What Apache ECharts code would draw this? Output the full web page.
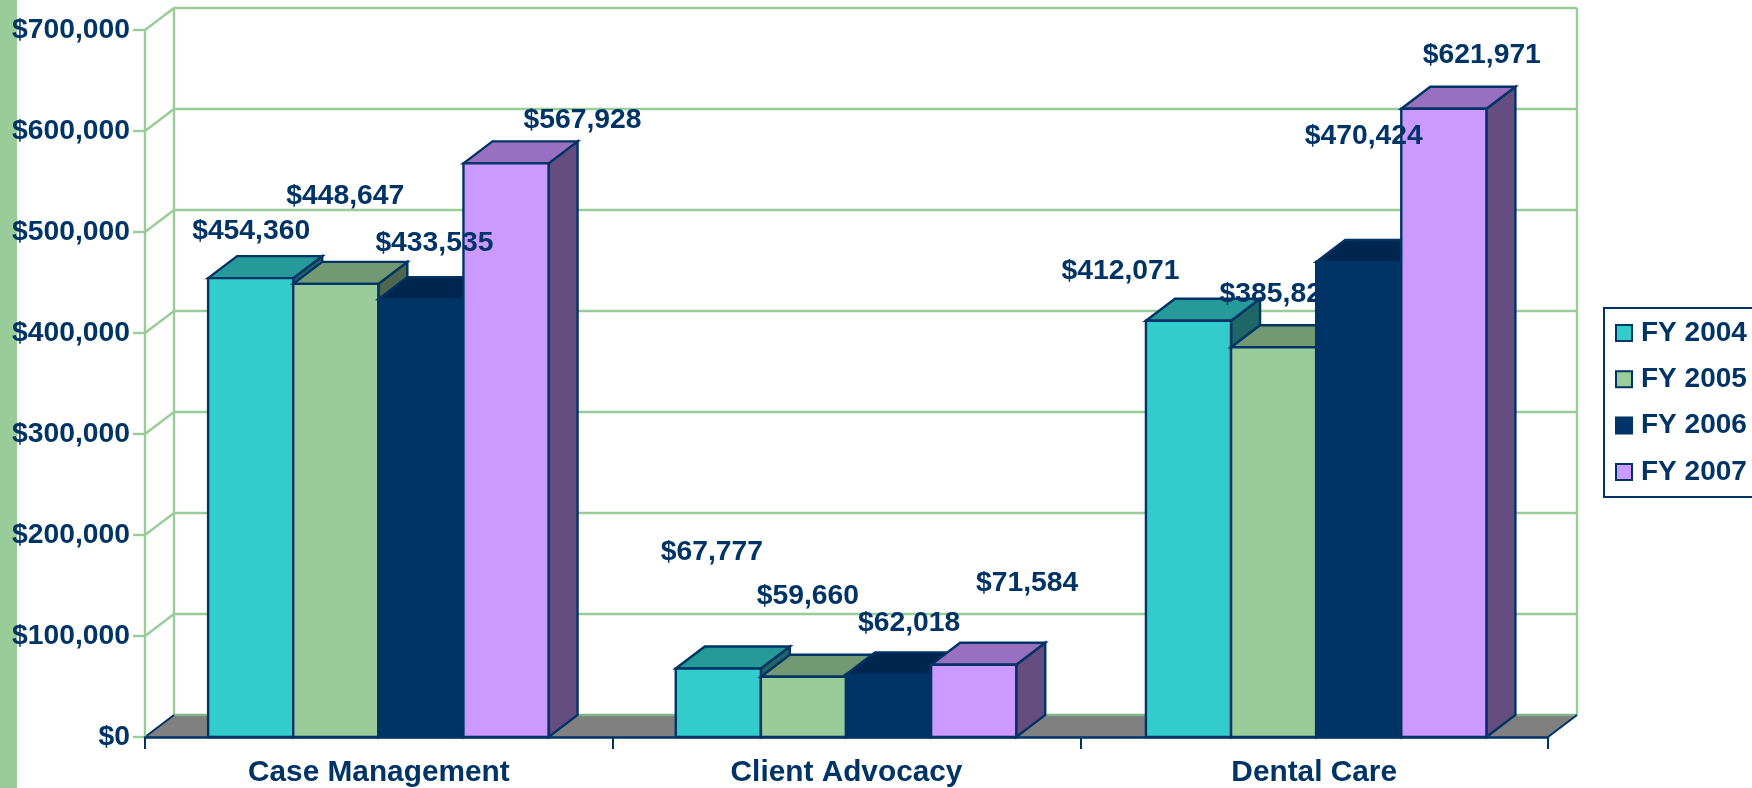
<!DOCTYPE html>
<html>
<head>
<meta charset="utf-8">
<style>html,body{margin:0;padding:0;background:#fff;overflow:hidden}#c{width:1752px;height:788px}</style>
<script src="https://cdn.jsdelivr.net/npm/echarts@6/dist/echarts.min.js"></script>
</head>
<body>
<div id="c"></div>
<script>
const categories = ['Case Management', 'Client Advocacy', 'Dental Care'];
const seriesNames = ['FY 2004', 'FY 2005', 'FY 2006', 'FY 2007'];
const fy2004 = [454360, 67777, 412071];
const fy2005 = [448647, 59660, 385821];
const fy2006 = [433535, 62018, 470424];
const fy2007 = [567928, 71584, 621971];
const yTicks = [0, 100000, 200000, 300000, 400000, 500000, 600000, 700000];

const allValues = [fy2004, fy2005, fy2006, fy2007];
const NAVY = '#003366', GREEN = '#99CC99', FONT = '"Liberation Sans", Arial, sans-serif';
const DEPTH_X = 29, DEPTH_Y = 22, BAR_SHARE = 0.182;
const LINE = 2.4;
const faces = [
  { front: '#33CCCC', top: '#269999', side: '#1F6666' },
  { front: '#99CC99', top: '#739973', side: '#4D664D' },
  { front: '#003366', top: '#00264F', side: '#001F40' },
  { front: '#CC99FF', top: '#9970BF', side: '#664D80' }
];
// Small horizontal adjustment of each category's bar cluster
const clusterNudge = [-0.5, -0.5, 2];
// Data-label placement relative to each bar's front-top centre (series x category)
const labelDX = [[0, -7, -66], [9, 4, 7], [13, 20, 7], [76, 53, 40]];
const labelDY = [[-47, -116, -50], [-88, -81, -53], [-56, -51, -126], [-43, -82, -54]];
const barZ = [2, 3, 4, 5], labelZ = [3.5, 3.5, 6, 6];

const money = v => '$' + Number(v).toLocaleString('en-US');

function renderWall(params, api) {
  const v = api.value(0);
  const maxV = yTicks[yTicks.length - 1];
  const band = api.size([1, 0])[0];
  const c0 = api.coord([0, v]);
  const xL = c0[0] - band / 2, y = c0[1];
  const xR = xL + band * categories.length;
  const kids = [];
  if (v === 0) {
    const topY = api.coord([0, maxV])[1];
    kids.push({ type: 'polygon', shape: { points: [[xL, y], [xL + DEPTH_X, y - DEPTH_Y], [xR + DEPTH_X, y - DEPTH_Y], [xR, y]] }, style: { fill: '#808080' } });
    kids.push({ type: 'line', shape: { x1: xL + DEPTH_X, y1: y - DEPTH_Y, x2: xL + DEPTH_X, y2: topY - DEPTH_Y }, style: { stroke: GREEN, lineWidth: LINE } });
    kids.push({ type: 'line', shape: { x1: xR + DEPTH_X, y1: y - DEPTH_Y, x2: xR + DEPTH_X, y2: topY - DEPTH_Y }, style: { stroke: GREEN, lineWidth: LINE } });
    kids.push({ type: 'line', shape: { x1: xL + DEPTH_X, y1: y - DEPTH_Y, x2: xR + DEPTH_X, y2: y - DEPTH_Y }, style: { stroke: '#7FB58F', lineWidth: LINE } });
    kids.push({ type: 'line', shape: { x1: xL, y1: y, x2: xL + DEPTH_X, y2: y - DEPTH_Y }, style: { stroke: NAVY, lineWidth: 2 } });
    kids.push({ type: 'line', shape: { x1: xR, y1: y, x2: xR + DEPTH_X, y2: y - DEPTH_Y }, style: { stroke: NAVY, lineWidth: 2 } });
  } else {
    kids.push({ type: 'polyline', shape: { points: [[xL, y], [xL + DEPTH_X, y - DEPTH_Y], [xR + DEPTH_X, y - DEPTH_Y]] }, style: { stroke: GREEN, lineWidth: LINE, fill: null } });
  }
  return { type: 'group', children: kids };
}

function barRenderer(si) {
  return function (params, api) {
    const cat = api.value(0), val = api.value(1);
    const band = api.size([1, 0])[0];
    const w = band * BAR_SHARE;
    const c = api.coord([cat, val]);
    const base = api.coord([cat, 0])[1];
    const x = c[0] + (si - 1.5) * w + clusterNudge[cat];
    const l = x - w / 2, r = x + w / 2, t = c[1];
    const f = faces[si];
    const s = col => ({ fill: col, stroke: NAVY, lineWidth: LINE, lineJoin: 'miter' });
    return { type: 'group', children: [
      { type: 'polygon', shape: { points: [[r, base], [r + DEPTH_X, base - DEPTH_Y], [r + DEPTH_X, t - DEPTH_Y], [r, t]] }, style: s(f.side) },
      { type: 'polygon', shape: { points: [[l, t], [l + DEPTH_X, t - DEPTH_Y], [r + DEPTH_X, t - DEPTH_Y], [r, t]] }, style: s(f.top) },
      { type: 'rect', shape: { x: l, y: t, width: w, height: base - t }, style: s(f.front) }
    ] };
  };
}

function labelRenderer(si) {
  return function (params, api) {
    const cat = api.value(0), val = api.value(1);
    const w = api.size([1, 0])[0] * BAR_SHARE;
    const c = api.coord([cat, val]);
    return { type: 'text', style: {
      x: c[0] + (si - 1.5) * w + labelDX[si][cat],
      y: c[1] + labelDY[si][cat],
      text: money(val), align: 'center', verticalAlign: 'middle',
      fill: NAVY, fontSize: 28.3, fontWeight: 'bold', fontFamily: FONT
    } };
  };
}

const series = [{
  type: 'custom', name: 'wall', silent: true, z: 1, clip: false,
  coordinateSystem: 'cartesian2d', renderItem: renderWall,
  encode: { y: 0 }, data: yTicks.map(v => [v])
}];
allValues.forEach((vals, si) => {
  const data = vals.map((v, i) => [i, v]);
  series.push({
    type: 'custom', name: seriesNames[si], z: barZ[si], clip: false,
    renderItem: barRenderer(si), encode: { x: 0, y: 1 }, data,
    itemStyle: { color: faces[si].front, borderColor: NAVY, borderWidth: 2 }
  });
  series.push({
    type: 'custom', name: 'labels ' + seriesNames[si], silent: true, z: labelZ[si], clip: false,
    renderItem: labelRenderer(si), encode: { x: 0, y: 1 }, data
  });
});

const chart = echarts.init(document.getElementById('c'), null, { renderer: 'canvas' });
chart.setOption({
  animation: false,
  backgroundColor: '#fff',
  tooltip: { show: false },
  graphic: [{ type: 'rect', z: -1, silent: true, shape: { x: 0, y: 0, width: 17, height: 788 }, style: { fill: GREEN } }],
  grid: { left: 145, right: 204, top: 30, bottom: 51, containLabel: false },
  legend: {
    data: seriesNames, orient: 'vertical', left: 1604, top: 308,
    itemWidth: 16, itemHeight: 16, itemGap: 18.3, padding: [11, 12, 11, 11],
    icon: 'rect', borderColor: NAVY, borderWidth: 2, backgroundColor: '#fff',
    selectedMode: false,
    textStyle: { color: NAVY, fontSize: 28, fontWeight: 'bold', fontFamily: FONT, padding: [0, 0, 0, 4] }
  },
  xAxis: {
    type: 'category', data: categories, z: 10,
    axisLine: { lineStyle: { color: NAVY, width: 2.5 } },
    axisTick: { show: true, length: 12, alignWithLabel: false, lineStyle: { color: NAVY, width: 2 } },
    axisLabel: { color: NAVY, fontSize: 29.8, fontWeight: 'bold', fontFamily: FONT, margin: 21, interval: 0 },
    splitLine: { show: false }
  },
  yAxis: {
    type: 'value', min: 0, max: 700000, interval: 100000, z: 1,
    axisLine: { show: true, lineStyle: { color: GREEN, width: LINE } },
    axisTick: { show: true, length: 12, lineStyle: { color: GREEN, width: LINE } },
    axisLabel: { color: NAVY, fontSize: 28.3, fontWeight: 'bold', fontFamily: FONT, margin: 15, formatter: money, showMinLabel: true, showMaxLabel: true },
    splitLine: { show: false }
  },
  series
});
</script>
</body>
</html>
